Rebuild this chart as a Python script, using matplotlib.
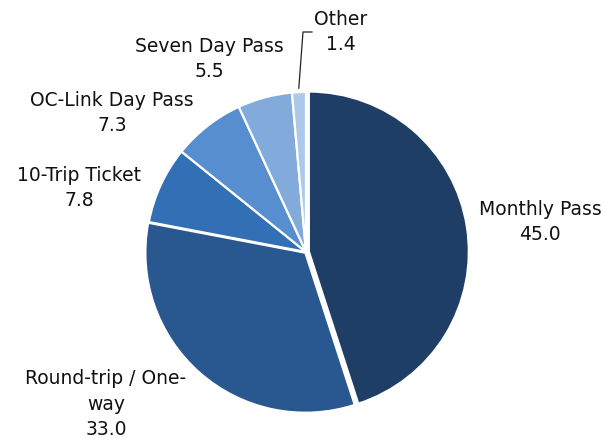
import matplotlib
matplotlib.use("Agg")
import matplotlib.pyplot as plt
import numpy as np

# fare type shares (%)
categories = ["Monthly Pass", "Round-trip / One-\nway", "10-Trip Ticket",
              "OC-Link Day Pass", "Seven Day Pass", "Other"]
shares = [45.0, 33.0, 7.8, 7.3, 5.5, 1.4]
colors = ["#1F3E66", "#29578F", "#336FB5", "#568ECF", "#82AADB", "#ADC9E9"]
explode = [0.018, 0.006, 0, 0, 0, 0]  # fraction of radius

# label centres in pixel coords (x from left, y from top)
label_pos = [(540, 222), (106, 404), (79, 188), (112, 113), (209, 59), (341, 32)]

W, H = 606, 440
cx, cy, R = 306, 252, 160

fig = plt.figure(figsize=(W / 100, H / 100), dpi=100)
ax = fig.add_axes([0, 0, 1, 1])

# pie() does not scale explode by radius, so do it here
wedges, _ = ax.pie(shares, colors=colors, explode=[e * R for e in explode],
                   startangle=90, counterclock=False, radius=R,
                   center=(cx, H - cy),
                   wedgeprops=dict(edgecolor="white", linewidth=1.6))

# pie() resets the limits, so set them afterwards
ax.set_xlim(0, W)
ax.set_ylim(0, H)
ax.set_aspect("equal")
ax.axis("off")

for name, val, (lx, ly) in zip(categories, shares, label_pos):
    ax.text(lx, H - ly, f"{name}\n{val:.1f}", ha="center", va="center",
            fontsize=13.5, color="#111111", linespacing=1.42,
            family="DejaVu Sans")

# leader line for the small "Other" slice
w = wedges[-1]
mid = np.deg2rad((w.theta1 + w.theta2) / 2)
sx = cx + (R + 4) * np.cos(mid)
sy = H - cy + (R + 4) * np.sin(mid)
ax.plot([sx, 303, 312], [sy, H - 32, H - 32], color="#222222", lw=0.9)

fig.savefig("out.png", dpi=100)
